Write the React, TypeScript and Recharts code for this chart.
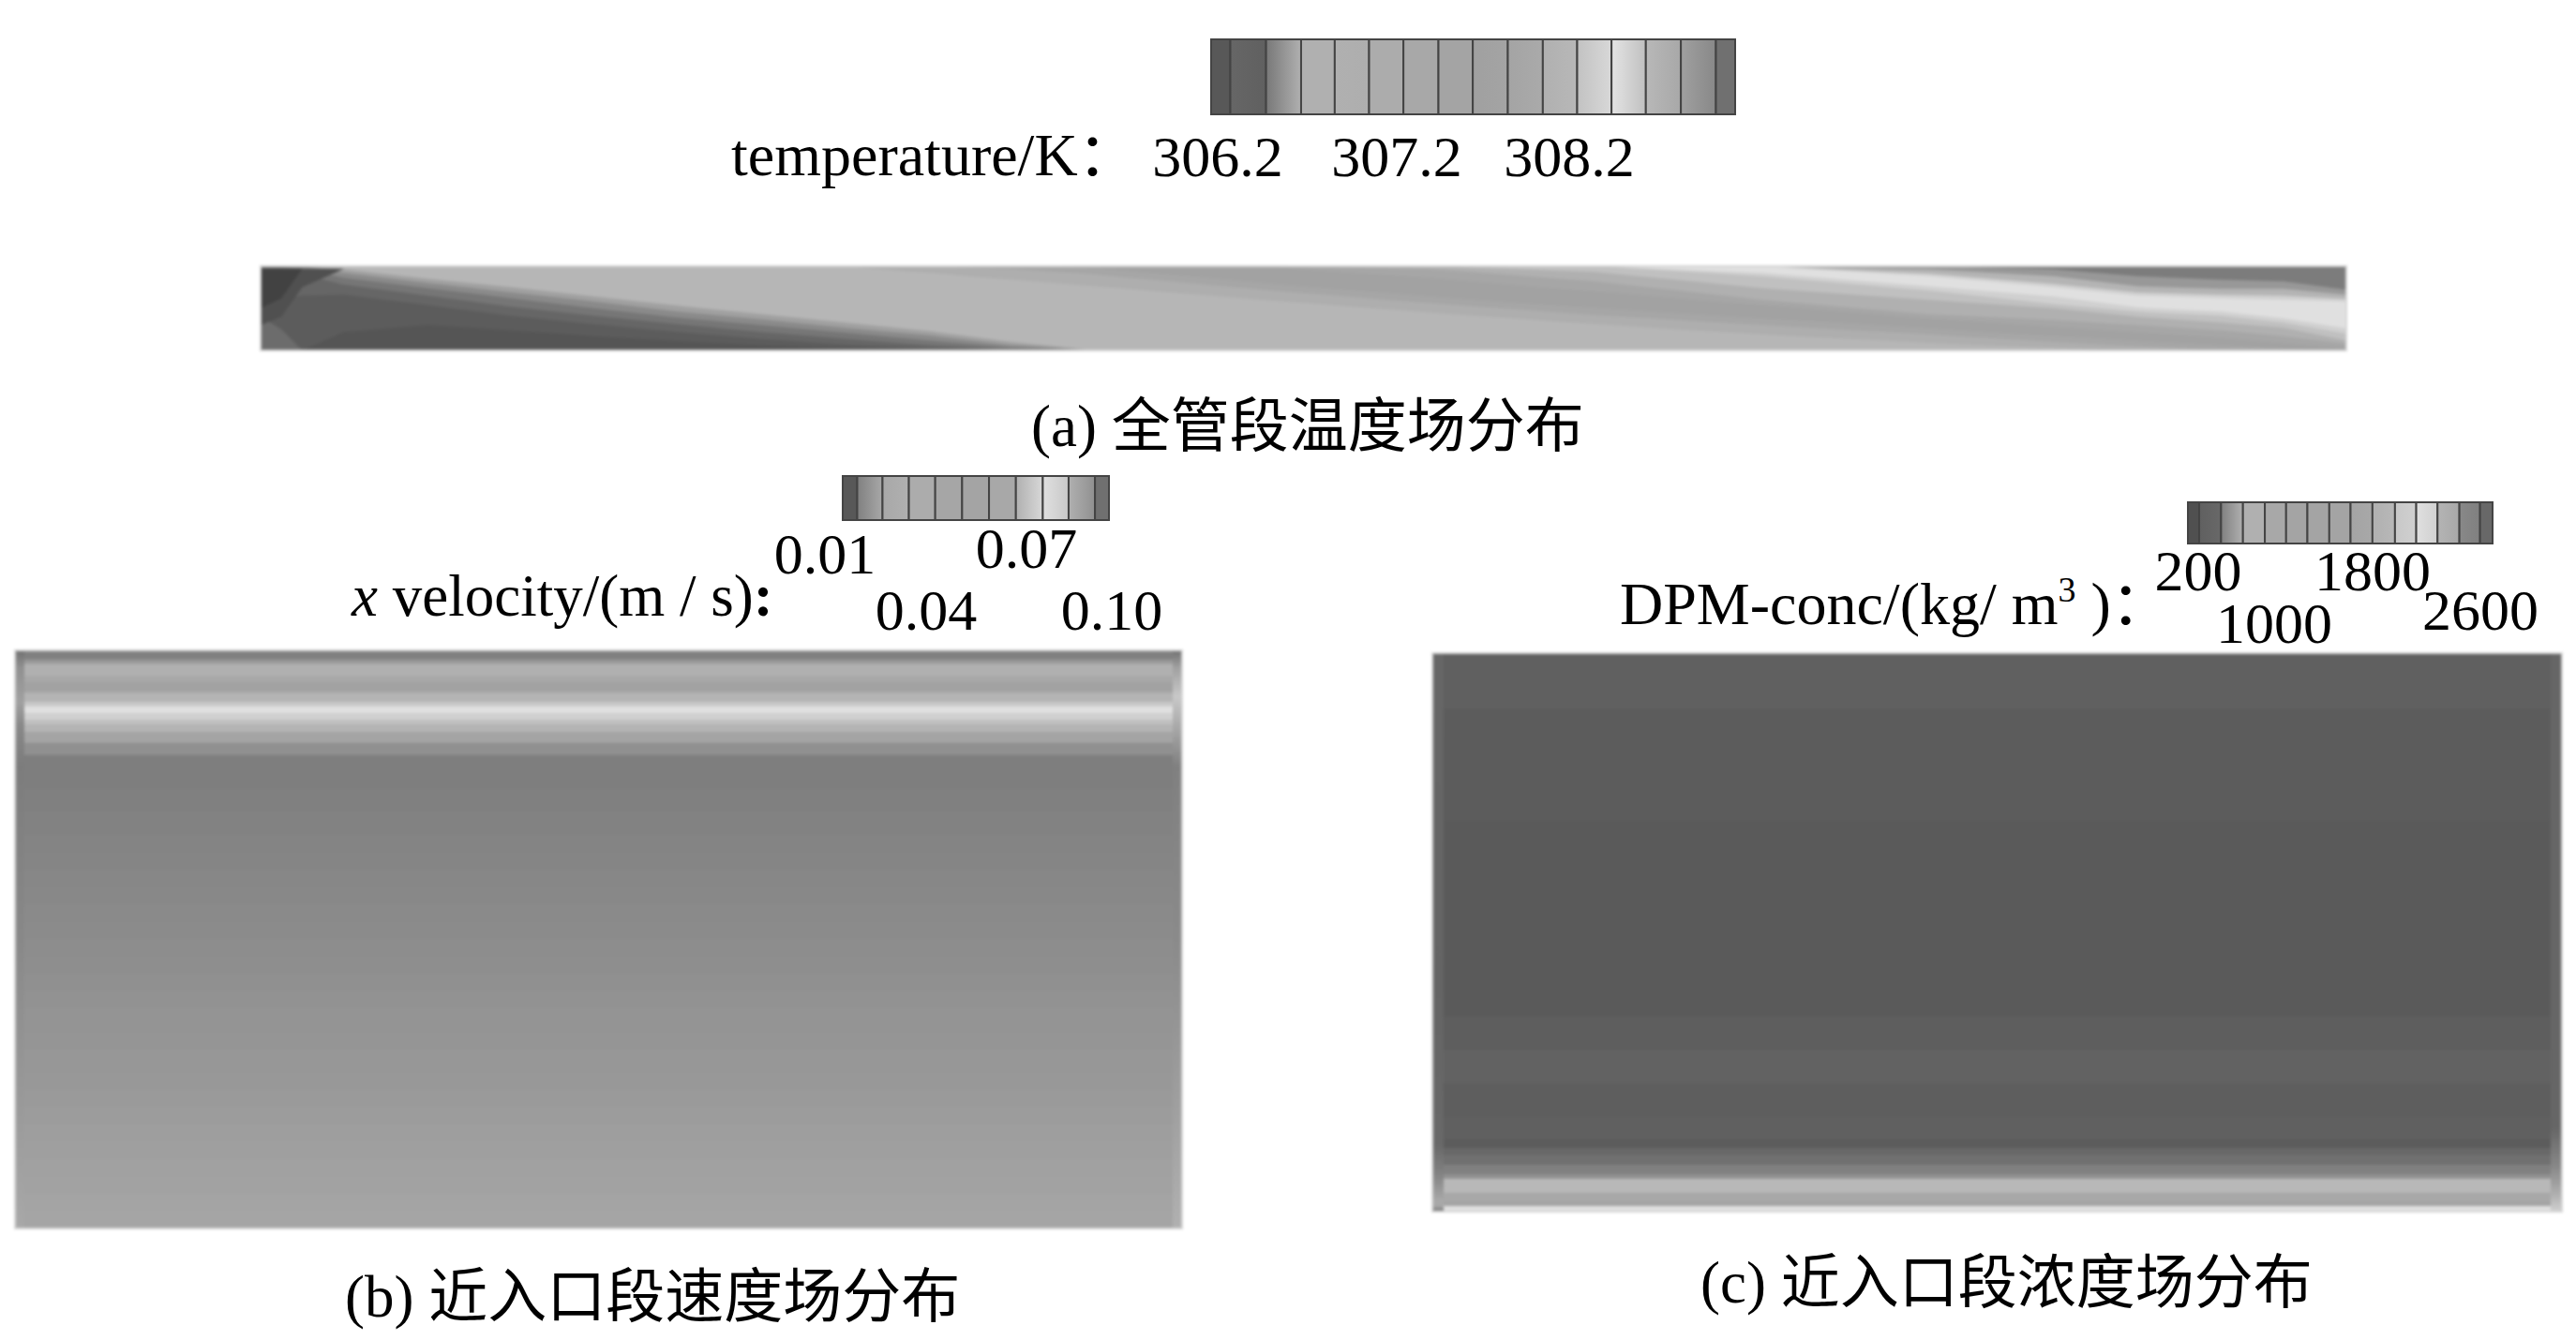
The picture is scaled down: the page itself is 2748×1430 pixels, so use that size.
import React from "react";
import { AreaChart, Area, BarChart, Bar, XAxis, YAxis, ReferenceArea } from "recharts";

// panel (a): x stations in % of pipe length, contours in % of pipe height
const tempStations = [0, 1, 2, 4, 8, 12, 16, 20, 24, 28, 32, 36, 40, 48, 56, 64, 72, 80, 86, 90, 94, 97, 100];
const tempContours = [
  [0, 0, 0, 22, 30, 24, 17, 11, 6, 2, 0, 0, 0, 0, 0, 0, 0, 0, 0, 0, 0, 0, 0],
  [60, 62, 65, 66, 54, 41, 31, 22, 14, 7, 2, 0, 0, 0, 0, 0, 0, 0, 0, 0, 0, 0, 0],
  [95, 93, 90, 78, 65, 52, 41, 31, 22, 14, 6, 0, 0, 0, 0, 0, 0, 0, 0, 0, 0, 0, 0],
  [100, 99, 97, 86, 74, 62, 50, 39, 30, 21, 12, 3, 0, 0, 0, 0, 0, 0, 0, 0, 0, 0, 0],
  [100, 100, 100, 92, 80, 69, 58, 46, 37, 27, 18, 6, 0, 0, 0, 0, 0, 0, 0, 0, 0, 0, 0],
  [100, 100, 100, 96, 85, 75, 64, 53, 43, 33, 23, 10, 0, 0, 0, 0, 0, 0, 0, 0, 0, 0, 0],
  [100, 100, 100, 100, 100, 100, 100, 100, 100, 100, 92, 84, 76, 60, 45, 31, 19, 9, 3, 0, 0, 0, 0],
  [100, 100, 100, 100, 100, 100, 100, 100, 100, 100, 100, 97, 90, 72, 56, 42, 30, 19, 10, 5, 0, 0, 0],
  [100, 100, 100, 100, 100, 100, 100, 100, 100, 100, 100, 100, 98, 80, 64, 50, 38, 26, 17, 11, 6, 2, 0],
  [100, 100, 100, 100, 100, 100, 100, 100, 100, 100, 100, 100, 100, 100, 86, 70, 54, 38, 28, 22, 15, 9, 3],
  [100, 100, 100, 100, 100, 100, 100, 100, 100, 100, 100, 100, 100, 100, 97, 82, 60, 43, 36, 30, 24, 17, 8],
  [100, 100, 100, 100, 100, 100, 100, 100, 100, 100, 100, 100, 100, 100, 100, 93, 74, 60, 50, 40, 33, 27, 12],
  [100, 100, 100, 100, 100, 100, 100, 100, 100, 100, 100, 100, 100, 100, 100, 100, 88, 71, 55, 46, 41, 33, 20],
  [100, 100, 100, 100, 100, 100, 100, 100, 100, 100, 100, 100, 100, 100, 100, 100, 92, 76, 64, 51, 46, 38, 26],
  [100, 100, 100, 100, 100, 100, 100, 100, 100, 100, 100, 100, 100, 100, 100, 100, 100, 88, 75, 65, 62, 60, 58],
  [100, 100, 100, 100, 100, 100, 100, 100, 100, 100, 100, 100, 100, 100, 100, 100, 100, 91, 79, 69, 66, 65, 61],
  [100, 100, 100, 100, 100, 100, 100, 100, 100, 100, 100, 100, 100, 100, 100, 100, 100, 96, 88, 76, 73, 73, 66],
  [100, 100, 100, 100, 100, 100, 100, 100, 100, 100, 100, 100, 100, 100, 100, 100, 100, 100, 96, 88, 84, 82, 72],
  [100, 100, 100, 100, 100, 100, 100, 100, 100, 100, 100, 100, 100, 100, 100, 100, 100, 100, 100, 100, 100, 100, 100],
];
const tempGrays = [0x55, 0x5c, 0x66, 0x76, 0x8a, 0xa0, 0xb6, 0xae, 0xa6, 0xa2, 0xa6, 0xb0, 0xc0, 0xd0, 0xe0, 0xd0, 0xb4, 0x98, 0x7c];
const tempPatches = [
  { gray: 0x6c, lo: [0, 0, 0], hi: [40, 25, 0] },
  { gray: 0x50, lo: [30, 40, 75, 97], hi: [97, 97, 97, 97] },
  { gray: 0x42, lo: [50, 62, 97], hi: [97, 97, 97] },
];

// panel (b): flat bands, heights in % from the bottom of the panel
const velStations = [0, 0.8, 99.2, 100];
const velHeights = [3, 6, 9, 12, 15, 18, 21, 24, 27, 31, 34, 38, 41, 44, 47, 50, 53, 56, 59, 62, 65, 68, 72, 76, 81.9, 84, 85.9, 87.2, 88, 89.2, 90.3, 91.1, 92.7, 94.5, 95.6, 97.7, 98.4, 100];
const velGrays = [0xa5, 0xa4, 0xa2, 0xa1, 0x9f, 0x9e, 0x9c, 0x9a, 0x98, 0x97, 0x95, 0x94, 0x92, 0x90, 0x8e, 0x8d, 0x8b, 0x8a, 0x88, 0x87, 0x85, 0x84, 0x82, 0x80, 0x7e, 0x90, 0xa4, 0xb4, 0xc0, 0xd0, 0xe0, 0xc8, 0xb4, 0xa2, 0xa8, 0xb0, 0x98, 0x80];
const velLeftEdge = [[0, 0x70], [3, 0x90], [9, 0xa0], [13, 0x88], [20, 0x7c], [50, 0x88], [80, 0x9a], [100, 0xa8]];
const velRightEdge = [[0, 0x70], [3, 0xa0], [8, 0xc8], [20, 0x80], [50, 0x8a], [80, 0xa0], [100, 0xb0]];

// panel (c)
const concStations = [0, 1, 99, 100];
const concHeights = [1, 1.8, 3.4, 5.9, 6.7, 8.4, 10.1, 11.4, 13, 17, 23, 29, 35, 70, 90, 100];
const concGrays = [0xe0, 0xa4, 0xa8, 0xb8, 0x90, 0x80, 0x70, 0x68, 0x5c, 0x60, 0x5e, 0x62, 0x5e, 0x5a, 0x5c, 0x60];
const concLeftEdge = [[0, 0x66], [60, 0x64], [88, 0x68], [93, 0x80], [98, 0xa8], [99, 0xa8], [100, 0x70]];
const concRightEdge = [[0, 0x66], [85, 0x66], [92, 0x88], [97, 0xb0], [100, 0xd0]];

// colour bars: segment widths and the grey at each side of a segment
const tempBarWidths = [28, 52, 51, 49, 50, 50, 51, 50, 51, 51, 50, 50, 50, 51, 51, 28];
const tempBarLeft = [0x58, 0x66, 0x78, 0xb0, 0xb0, 0xac, 0xa8, 0xa4, 0xa0, 0xa4, 0xb0, 0xc2, 0xe4, 0xb8, 0xa0, 0x70];
const tempBarRight = [0x58, 0x60, 0xb0, 0xb0, 0xae, 0xac, 0xa8, 0xa4, 0xa4, 0xaa, 0xb8, 0xd8, 0xc0, 0xa8, 0x88, 0x70];
const velBarWidths = [27, 47, 49, 49, 50, 50, 50, 50, 48, 49, 26];
const velBarLeft = [0x58, 0x80, 0xa8, 0xac, 0xa6, 0xa4, 0xa8, 0xb0, 0xe0, 0xb0, 0x70];
const velBarRight = [0x58, 0xa8, 0xb0, 0xac, 0xa6, 0xa4, 0xa8, 0xd8, 0xc8, 0x90, 0x70];
const concBarWidths = [36, 70, 70, 70, 68, 68, 70, 68, 70, 72, 68, 68, 70, 66, 40];
const concBarLeft = [0x50, 0x60, 0x80, 0xb0, 0xa8, 0xa4, 0xa4, 0xa4, 0xa4, 0xb0, 0xc8, 0xe0, 0xb4, 0x88, 0x68];
const concBarRight = [0x50, 0x68, 0xb0, 0xb0, 0xa8, 0xa4, 0xa4, 0xa4, 0xa8, 0xb8, 0xd0, 0xd0, 0xa8, 0x80, 0x68];

const tempTicks = ["306.2", "307.2", "308.2"];
const velTicks = ["0.01", "0.07", "0.04", "0.10"];
const concTicks = ["200", "1800", "1000", "2600"];

const gray = (v: number) => `rgb(${v},${v},${v})`;
const FONT = '"Liberation Serif", "Noto Sans CJK SC", serif';
const PAD = 2;

const place = (x: number, y: number): React.CSSProperties => ({
  position: "absolute",
  left: x - PAD,
  top: y - PAD,
});

const Field = ({ x, y, width, height, stations, contours, grays, patches = [], edges = [], name, blur = 1.5 }: any) => {
  const data = stations.map((s: number, i: number) => {
    const row: any = { s };
    contours.forEach((c: number[], k: number) => (row[`c${k}`] = c[i]));
    patches.forEach((p: any, k: number) => {
      row[`p${k}`] = p.lo[i] === undefined ? null : [p.lo[i], p.hi[i]];
    });
    edges.forEach((e: any, k: number) => {
      row[`e${k}`] = e.at.includes(i) ? [0, 100] : null;
    });
    return row;
  });
  // painted from the top band down, so each lower band covers the one above
  const order = contours.map((_: any, k: number) => k).reverse();
  return (
    <div style={{ ...place(x, y), filter: `blur(${blur}px)` }}>
      <AreaChart
        width={width + PAD * 2}
        height={height + PAD * 2}
        data={data}
        margin={{ top: PAD, right: PAD, bottom: PAD, left: PAD }}
      >
        <defs>
          {edges.map((e: any, k: number) => (
            <linearGradient key={k} id={`${name}-edge-${k}`} x1="0" y1="0" x2="0" y2="1">
              {e.stops.map(([o, g]: number[]) => (
                <stop key={o} offset={`${o}%`} stopColor={gray(g)} />
              ))}
            </linearGradient>
          ))}
        </defs>
        <XAxis type="number" dataKey="s" domain={[0, 100]} hide />
        <YAxis type="number" domain={[0, 100]} hide />
        {order.map((k: number) => (
          <Area
            key={k}
            dataKey={`c${k}`}
            type="linear"
            fill={gray(grays[k])}
            fillOpacity={1}
            stroke="none"
            dot={false}
            activeDot={false}
            isAnimationActive={false}
          />
        ))}
        {patches.map((p: any, k: number) => (
          <Area
            key={`p${k}`}
            dataKey={`p${k}`}
            type="linear"
            fill={gray(p.gray)}
            fillOpacity={1}
            stroke="none"
            dot={false}
            activeDot={false}
            isAnimationActive={false}
          />
        ))}
        {edges.map((e: any, k: number) => (
          <Area
            key={`e${k}`}
            dataKey={`e${k}`}
            type="linear"
            fill={`url(#${name}-edge-${k})`}
            fillOpacity={1}
            stroke="none"
            dot={false}
            activeDot={false}
            isAnimationActive={false}
          />
        ))}
        <ReferenceArea x1={0} x2={100} y1={0} y2={100} fill="none" stroke="#d6d6d6" strokeWidth={2} />
      </AreaChart>
    </div>
  );
};

const ColourBar = ({ x, y, width, height, widths, left, right, name }: any) => {
  const row: any = { name };
  widths.forEach((w: number, i: number) => (row[`s${i}`] = w));
  const total = widths.reduce((a: number, b: number) => a + b, 0);
  return (
    <div style={place(x, y)}>
      <BarChart
        layout="vertical"
        width={width + PAD * 2}
        height={height + PAD * 2}
        data={[row]}
        barCategoryGap={0}
        margin={{ top: PAD, right: PAD, bottom: PAD, left: PAD }}
      >
        <defs>
          {widths.map((_: number, i: number) => (
            <linearGradient key={i} id={`${name}-${i}`} x1="0" y1="0" x2="1" y2="0">
              <stop offset="0%" stopColor={gray(left[i])} />
              <stop offset="100%" stopColor={gray(right[i])} />
            </linearGradient>
          ))}
        </defs>
        <XAxis type="number" domain={[0, total]} hide />
        <YAxis type="category" dataKey="name" hide />
        {widths.map((_: number, i: number) => (
          <Bar
            key={i}
            dataKey={`s${i}`}
            stackId="bar"
            fill={`url(#${name}-${i})`}
            stroke="#444444"
            strokeWidth={2}
            isAnimationActive={false}
          />
        ))}
      </BarChart>
    </div>
  );
};

const T = ({ x, y, size = 62, anchor = "start", children }: any) => (
  <text x={x} y={y} fontSize={size} textAnchor={anchor} fontFamily={FONT} fill="#000">
    {children}
  </text>
);

export default function App() {
  return (
    <div style={{ position: "absolute", left: 0, top: 0, width: 2748, height: 1430, overflow: "hidden", background: "#fff" }}>
      <ColourBar x={1292} y={42} width={559} height={80} widths={tempBarWidths} left={tempBarLeft} right={tempBarRight} name="tempbar" />
      <ColourBar x={899} y={508} width={284} height={47} widths={velBarWidths} left={velBarLeft} right={velBarRight} name="velbar" />
      <ColourBar x={2334} y={536} width={325} height={44} widths={concBarWidths} left={concBarLeft} right={concBarRight} name="concbar" />

      <Field x={278} y={284} width={2225} height={90} stations={tempStations} contours={tempContours} grays={tempGrays} patches={tempPatches} name="temp" />
      <Field
        x={16}
        y={694}
        width={1245}
        height={617}
        stations={velStations}
        contours={velHeights.map((h) => velStations.map(() => h))}
        grays={velGrays}
        edges={[
          { at: [0, 1], stops: velLeftEdge },
          { at: [2, 3], stops: velRightEdge },
        ]}
        name="vel"
      />
      <Field
        x={1528}
        y={697}
        width={1205}
        height={596}
        stations={concStations}
        contours={concHeights.map((h) => concStations.map(() => h))}
        grays={concGrays}
        edges={[
          { at: [0, 1], stops: concLeftEdge },
          { at: [2, 3], stops: concRightEdge },
        ]}
        name="conc"
      />

      <svg width={2748} height={1430} style={{ position: "absolute", left: 0, top: 0, pointerEvents: "none" }}>
        <T x={780} y={187} size={64}>temperature/K：</T>
        <T x={1299} y={188} anchor="middle">{tempTicks[0]}</T>
        <T x={1490} y={188} anchor="middle">{tempTicks[1]}</T>
        <T x={1674} y={188} anchor="middle">{tempTicks[2]}</T>
        <T x={1100} y={476} size={63}>(a) 全管段温度场分布</T>

        <T x={375} y={657} size={63}>
          <tspan fontStyle="italic">x</tspan> velocity/(m / s)<tspan fontWeight="bold">:</tspan>
        </T>
        <T x={880} y={612} anchor="middle">{velTicks[0]}</T>
        <T x={1095} y={606} anchor="middle">{velTicks[1]}</T>
        <T x={988} y={672} anchor="middle">{velTicks[2]}</T>
        <T x={1186} y={672} anchor="middle">{velTicks[3]}</T>
        <T x={368} y={1405} size={63}>(b) 近入口段速度场分布</T>

        <T x={1728} y={666} size={64}>
          DPM-conc/(kg/ m<tspan fontSize={38} dy={-24}>3</tspan>
          <tspan dy={24}> )：</tspan>
        </T>
        <T x={2345} y={630} anchor="middle">{concTicks[0]}</T>
        <T x={2531} y={630} anchor="middle">{concTicks[1]}</T>
        <T x={2426} y={686} anchor="middle">{concTicks[2]}</T>
        <T x={2646} y={672} anchor="middle">{concTicks[3]}</T>
        <T x={1814} y={1390} size={63}>(c) 近入口段浓度场分布</T>
      </svg>
    </div>
  );
}
